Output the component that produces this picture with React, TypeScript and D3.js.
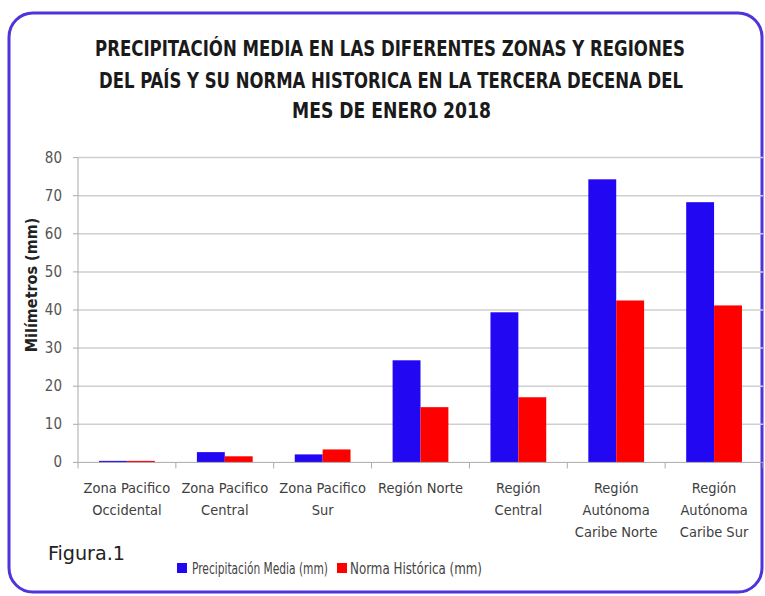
import React from "react";
import * as d3 from "d3";

const categories: string[][] = [
  ["Zona Pacifico", "Occidental"],
  ["Zona Pacifico", "Central"],
  ["Zona Pacifico", "Sur"],
  ["Región Norte"],
  ["Región", "Central"],
  ["Región", "Autónoma", "Caribe Norte"],
  ["Región", "Autónoma", "Caribe Sur"],
];
const seriesNames = ["Precipitación Media (mm)", "Norma Histórica (mm)"];
const precipitacion = [0.4, 2.7, 2.1, 26.8, 39.4, 74.3, 68.3];
const norma = [0.4, 1.6, 3.4, 14.5, 17.1, 42.5, 41.2];
const yTicks = [0, 10, 20, 30, 40, 50, 60, 70, 80];
const titleLines = [
  "PRECIPITACIÓN MEDIA EN LAS DIFERENTES ZONAS Y REGIONES",
  "DEL PAÍS Y SU NORMA HISTORICA EN LA TERCERA DECENA DEL",
  "MES DE ENERO  2018",
];
const colors = ["#2208f2", "#ff0000"];

const FONT = "'Liberation Sans Narrow', 'DejaVu Sans Condensed', 'Liberation Sans', sans-serif";

export default function App() {
  const W = 765, H = 596;
  const left = 78, right = 763, top = 157.6, bottom = 462.4;
  const idx = categories.map((_, i) => String(i));
  const x0 = d3.scaleBand<string>().domain(idx).range([left, right]).padding(0);
  const bw = x0.bandwidth();
  const x1 = d3.scaleBand<string>().domain(["0", "1"]).range([bw * 0.215, bw * 0.785]).padding(0);
  const y = d3.scaleLinear().domain([0, 80]).range([bottom, top]);
  const series = [precipitacion, norma];

  const titleWidths = [590, 584, 199];
  const titleX = [95, 99, 292];
  const titleY = [56, 88, 118];

  return (
    <svg width={W} height={H} style={{ position: "absolute", left: 0, top: 0, background: "#fff" }}>
      <rect x={0} y={0} width={W} height={H} fill="#fff" />
      <rect x={9} y={13} width={753} height={579} rx={24} ry={24} fill="#fff" stroke="#4f34dc" strokeWidth={3} />
      {titleLines.map((t, i) => (
        <g key={i} transform={`translate(${titleX[i]},${titleY[i]}) scale(1,1.12)`}>
          <text x={0} y={0} fontFamily={FONT} fontWeight="bold" fontSize={18.5}
            fill="#1a1a1a" textLength={titleWidths[i]} lengthAdjust="spacingAndGlyphs">{t}</text>
        </g>
      ))}
      {/* gridlines */}
      {yTicks.map((t) => (
        <g key={t}>
          {t > 0 && <line x1={left} x2={right} y1={y(t)} y2={y(t)} stroke="#cfcfcf" strokeWidth={1.5} />}
          <line x1={left - 5} x2={left} y1={y(t)} y2={y(t)} stroke="#aaa" strokeWidth={1} />
          <text x={62} y={y(t) + 5} textAnchor="end" fontFamily={FONT} fontSize={15} fill="#555">{t}</text>
        </g>
      ))}
      <line x1={left} x2={left} y1={top} y2={bottom} stroke="#aaa" strokeWidth={1} />
      <text transform={`translate(37,285) rotate(-90)`} textAnchor="middle"
        fontFamily={FONT} fontWeight="bold" fontSize={16} fill="#222">Milímetros (mm)</text>
      {/* bars */}
      {categories.map((_, i) =>
        series.map((s, j) => (
          <rect key={`${i}-${j}`} x={(x0(String(i)) as number) + (x1(String(j)) as number)} y={y(s[i])}
            width={x1.bandwidth()} height={bottom - y(s[i])} fill={colors[j]} />
        ))
      )}
      {/* x axis */}
      <line x1={left} x2={right} y1={bottom} y2={bottom} stroke="#aaa" strokeWidth={1} />
      {idx.concat([String(categories.length)]).map((k, i) => {
        const xx = left + i * bw;
        return <line key={k} x1={xx} x2={xx} y1={bottom} y2={bottom + 6} stroke="#aaa" strokeWidth={1} />;
      })}
      {categories.map((lines, i) => (
        <text key={i} textAnchor="middle" fontFamily={FONT} fontSize={14.5} fill="#404040">
          {lines.map((l, k) => (
            <tspan key={k} x={(x0(String(i)) as number) + bw / 2} y={493 + k * 22}>{l}</tspan>
          ))}
        </text>
      ))}
      {/* legend */}
      <text x={48} y={560} fontFamily={FONT} fontSize={19} fill="#222" textLength={77} lengthAdjust="spacingAndGlyphs">Figura.1</text>
      <rect x={177} y={563} width={10} height={10} fill={colors[0]} />
      <g transform="translate(192,574) scale(1,1.2)">
        <text x={0} y={0} fontFamily={FONT} fontSize={13.5} fill="#444" textLength={136} lengthAdjust="spacingAndGlyphs">{seriesNames[0]}</text>
      </g>
      <rect x={337} y={563} width={10} height={10} fill={colors[1]} />
      <g transform="translate(350,574) scale(1,1.2)">
        <text x={0} y={0} fontFamily={FONT} fontSize={13.5} fill="#444" textLength={132} lengthAdjust="spacingAndGlyphs">{seriesNames[1]}</text>
      </g>
    </svg>
  );
}
